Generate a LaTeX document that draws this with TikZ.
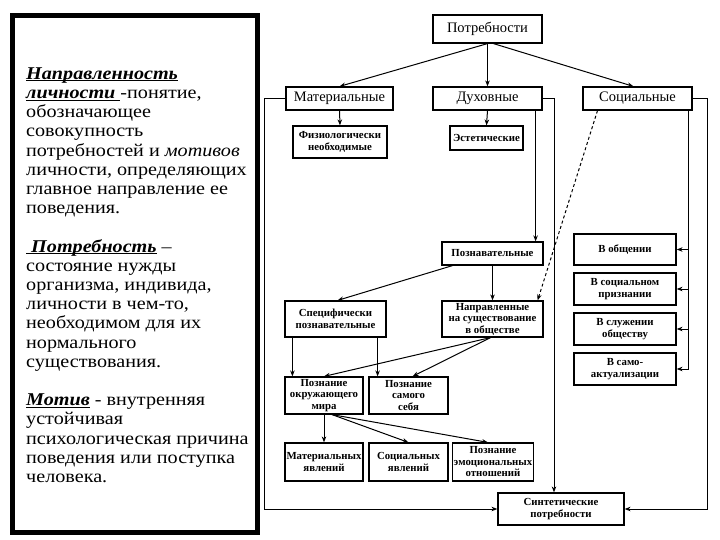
\documentclass[tikz,border=0pt]{standalone}
\usepackage{fontspec}
\setmainfont{Liberation Serif}
\newfontfamily\notefont{Liberation Serif}[FakeStretch=1.12]
\newcommand\term[1]{\underline{\smash{\textbf{\textit{#1}}}}}
\usetikzlibrary{arrows.meta}

\begin{document}
\begin{tikzpicture}[x=1pt,y=-1pt,>={Stealth[length=6pt,width=4.5pt]}]
    \tikzstyle{box} = [draw,line width=1.2pt,inner sep=1pt,align=center,font=\fontsize{10.8}{11.5}\selectfont\bfseries]
    \tikzstyle{head} = [box,font=\fontsize{14.5}{16}\selectfont]
    \tikzstyle{link} = [line width=1pt]
    \useasboundingbox (0,0) rectangle (720,540);
    \node [draw,line width=5pt,minimum width=245pt,minimum height=516pt] (panel) at (134.5,274) {};
    \node [anchor=north west,inner sep=0pt,align=left,font=\notefont\fontsize{18}{19.2}\selectfont] (defs) at (26,79) {%
        \term{Направленность}\\
        \term{личности\ }-понятие,\\
        обозначающее\\
        совокупность\\
        потребностей и \textit{мотивов}\\
        личности, определяющих\\
        главное направление ее\\
        поведения.\\[19.2pt]
        \term{\ Потребность} –\\
        состояние нужды\\
        организма, индивида,\\
        личности в чем-то,\\
        необходимом для их\\
        нормального\\
        существования.\\[19.2pt]
        \term{Мотив} - внутренняя\\
        устойчивая\\
        психологическая причина\\
        поведения или поступка\\
        человека.};
    \node [head,minimum width=109pt,minimum height=28pt] (need) at (487.5,29) {Потребности};
    \node [head,minimum width=107pt,minimum height=23pt] (mat) at (339.5,98.5) {Материальные};
    \node [head,minimum width=109pt,minimum height=23pt] (spir) at (487.5,98.5) {Духовные};
    \node [head,minimum width=109pt,minimum height=23pt] (soc) at (637.5,98.5) {Социальные};
    \node [box,minimum width=94pt,minimum height=32pt] (phys) at (340,142) {Физиологически\\необходимые};
    \node [box,minimum width=73pt,minimum height=24pt] (aest) at (486.5,138) {Эстетические};
    \node [box,minimum width=101pt,minimum height=23pt] (cogn) at (492.5,253.5) {Познавательные};
    \node [box,minimum width=102pt,minimum height=31pt] (comm) at (625,249.5) {В общении};
    \node [box,minimum width=102pt,minimum height=32pt] (recog) at (625,289) {В социальном\\признании};
    \node [box,minimum width=102pt,minimum height=32pt] (serv) at (625,329) {В служении\\обществу};
    \node [box,minimum width=102pt,minimum height=32pt] (self) at (625,369) {В само-\\актуализации};
    \node [box,minimum width=101pt,minimum height=36pt] (spec) at (335.5,319) {Специфически\\познавательные};
    \node [box,minimum width=101pt,minimum height=36pt] (soci) at (492.5,319) {Направленные\\на существование\\в обществе};
    \node [box,minimum width=78pt,minimum height=37pt] (world) at (324,395.5) {Познание\\окружающего\\мира};
    \node [box,minimum width=79pt,minimum height=37pt] (me) at (408.5,395.5) {Познание\\самого\\себя};
    \node [box,minimum width=78pt,minimum height=38pt] (matph) at (324,462) {Материальных\\явлений};
    \node [box,minimum width=79pt,minimum height=38pt] (socph) at (408.5,462) {Социальных\\явлений};
    \node [box,minimum width=80pt,minimum height=38pt] (emo) at (493,462) {Познание\\эмоциональных\\отношений};
    \node [box,minimum width=126pt,minimum height=32pt] (synth) at (561,509) {Синтетические\\потребности};
    \coordinate (bus) at ([xshift=-4pt]soc.south east);
    % top level
    \draw [link,->] (need.south) -- (mat.north);
    \draw [link,->] (need.south) -- (spir.north);
    \draw [link,->] ([xshift=6pt]need.south) -- ([xshift=-4pt]soc.north);
    \draw [link,->] (mat.south) -- (phys.north);
    \draw [link,->] (spir.south) -- (aest.north);
    % side loops to the synthetic needs
    \draw [link,->] (mat.west) -- ++(-21,0) |- (synth.west);
    \draw [link,->] (spir.east) -| ([xshift=-7pt]synth.north);
    \draw [link,->] (soc.east) -- ++(15,0) |- (synth.east);
    % social branch
    \draw [link,->] (bus) |- (self.east);
    \foreach \n in {comm,recog,serv}
        \draw [link,->] (bus |- \n.east) -- (\n.east);
    \draw [link,->,dash pattern=on 3pt off 2.5pt] ([xshift=-40pt]soc.south) -- ([xshift=-6pt]soci.north east);
    % cognitive branch
    \draw [link,->] ([xshift=-7pt]spir.south east) -- ([xshift=-7pt]spir.south east |- cogn.north);
    \draw [link,->] ([xshift=-40pt]cogn.south) -- ([xshift=2pt]spec.north);
    \draw [link,->] (cogn.south) -- (soci.north);
    \draw [link,->] ([xshift=8pt]spec.south west) -- ([xshift=8pt]spec.south west |- world.north);
    \draw [link,->] ([xshift=-9pt]spec.south east) -- ([xshift=-9pt]spec.south east |- me.north);
    \draw [link,->] ([xshift=-2pt]soci.south) -- (world.north);
    \draw [link,->] ([xshift=-2pt]soci.south) -- ([xshift=4pt]me.north);
    \draw [link,->] (world.south) -- (matph.north);
    \draw [link,->] ([xshift=8pt]world.south) -- (socph.north);
    \draw [link,->] ([xshift=8pt]world.south) -- ([xshift=-5pt]emo.north);
\end{tikzpicture}
\end{document}
